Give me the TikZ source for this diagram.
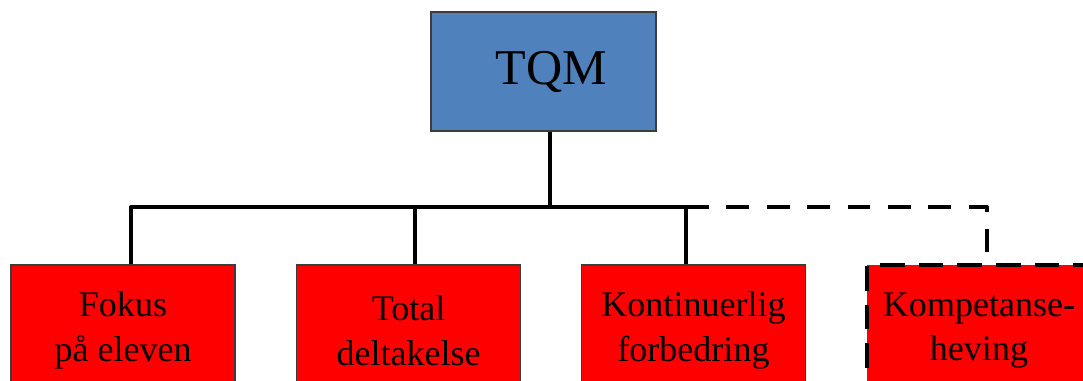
\documentclass[tikz,border=0pt]{standalone}
\usepackage{fontspec}
\setmainfont{Liberation Serif}
\usepackage{tikz}
\usetikzlibrary{positioning}
\definecolor{tqmblue}{RGB}{79,129,189}
\definecolor{edgegray}{RGB}{60,60,60}
\tikzset{
  topbox/.style={draw=edgegray, line width=0.6pt, fill=tqmblue, inner sep=0pt,
    minimum width=4.5cm, minimum height=2.38cm, font=\fontsize{28.5}{34}\selectfont},
  partbox/.style={draw=edgegray, line width=0.6pt, fill=red, inner sep=0pt, align=center,
    minimum width=4.48cm, minimum height=2.62cm, font=\fontsize{20.5}{25.5}\selectfont},
  link/.style={line width=2.3pt, line join=round},
  maybe/.style={dash pattern=on 13pt off 10pt},
}
\begin{document}
\begin{tikzpicture}[x=0.02cm, y=0.02cm]
      \useasboundingbox (0,0) rectangle (1083,380);
      \clip (0,0) rectangle (1083,380);

      % top of the tree
      \node[topbox] (TQM) at (543.5,308.5) {\hspace*{9pt}TQM};

      % the four parts
      \node[partbox] (Fokus) at (123,49.5) {Fokus\\på eleven};
      \node[partbox] (Total) at (408.5,49.5) {Total\\deltakelse};
      \node[partbox] (Kont) at (693.5,49.5) {Kontinuerlig\\forbedring};
      \node[partbox, line width=2.8pt, draw=black, dash pattern=on 14pt off 8pt] (Komp) at (979,49.5) {Kompetanse-\\heving};

      % branch points on the bar
      \coordinate (split) at (550,173);
      \coordinate (d1) at (131,173);
      \coordinate (d2) at (415,173);
      \coordinate (d3) at (686,173);
      \coordinate (d4) at (987,173);

      \draw[link] (TQM.south -| split) -- (split);
      \draw[link] (d1 |- Fokus.north) -- (d1) -- (d3) -- (d3 |- Kont.north);
      \draw[link] (d2) -- (d2 |- Total.north);
      \draw[link, maybe] (d3) -- (d4) -- (d4 |- Komp.north); % not yet in place
\end{tikzpicture}
\end{document}
